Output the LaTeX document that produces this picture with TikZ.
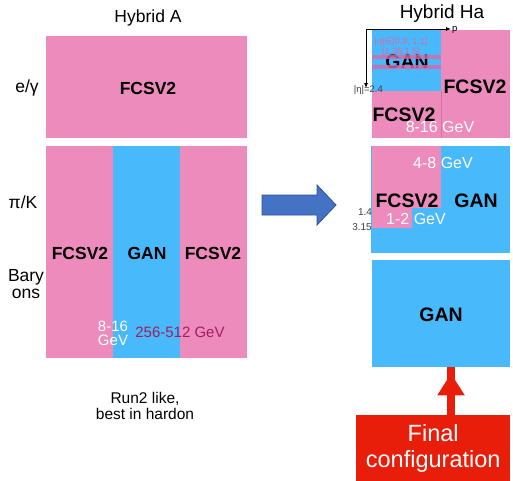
\documentclass[tikz,border=0pt]{standalone}
\usepackage{fontspec}
\setmainfont{Liberation Sans}
\newfontfamily\dejavu{DejaVu Sans}
\usetikzlibrary{arrows.meta}
\definecolor{pinkc}{RGB}{238,139,189}
\definecolor{bluec}{RGB}{72,185,250}
\definecolor{arrowblue}{RGB}{68,114,196}
\definecolor{arrowedge}{RGB}{47,82,143}
\definecolor{redc}{RGB}{232,30,10}
\definecolor{darkmag}{RGB}{160,30,95}
\definecolor{stripe}{RGB}{225,100,165}
\newcommand{\fs}[1]{\fontsize{#1}{#1}\selectfont}
\tikzset{
  lbl/.style={inner sep=0pt, font=\fs{17.5}, align=center},
  big/.style={inner sep=0pt, font=\fs{17.5}\bfseries},
  bigr/.style={inner sep=0pt, font=\fs{19.5}\bfseries},
  gev/.style={inner sep=0pt, font=\fs{16}, text=white, align=center},
  tiny/.style={inner sep=0pt, font=\fs{9.5}},
}
\begin{document}
\begin{tikzpicture}[x=1pt,y=-1pt]
\useasboundingbox (0,0) rectangle (513,480);
% ---------- Left panel ----------
\node[lbl] (ha) at (148,18) {Hybrid A};
\fill[pinkc] (46,36) rectangle (247,138);
\node[big] (la1) at (148,88) {FCSV2};
\fill[pinkc] (46,146) rectangle (247,358);
\fill[bluec] (113,146) rectangle (180,358);
\node[big] (la2) at (80,253) {FCSV2};
\node[big] (la3) at (147,253) {GAN};
\node[big] (la4) at (213,253) {FCSV2};
\node[inner sep=0pt, font=\fs{15}, text=white, align=center] (la5) at (113,333) {8-16\\[-1pt]GeV};
\node[inner sep=0pt, font=\fs{15}, text=darkmag] (la6) at (180,332) {256-512 GeV};
\node[lbl] (eg) at (27,88) {e/γ};
\node[lbl] (pk) at (23,202) {π/K};
\node[lbl] (bar) at (26,284) {Bary\\ons};
\node[inner sep=0pt, font=\fs{15.5}, align=center] (run) at (145,406) {Run2 like,\\best in hardon};
% ---------- Blue arrow ----------
\filldraw[fill=arrowblue, draw=arrowedge, line width=0.8pt]
  (262,195) -- (317,195) -- (317,185) -- (336,205) -- (317,225) -- (317,215) -- (262,215) -- cycle;
% ---------- Right panel ----------
\node[inner sep=0pt, font=\fs{19}] (hha) at (442,14) {Hybrid Ha};
% top block
\fill[pinkc] (372,30) rectangle (510,138);
\fill[bluec] (372,30) rectangle (441,91);
\draw[pinkc!85!black, line width=0.3pt] (441,91) -- (441,138);
\node[bigr] (rg1) at (407,62) {GAN};
\fill[stripe, opacity=0.8] (372,55) rectangle (441,59);
\fill[stripe, opacity=0.8] (372,65) rectangle (441,69);
\node[inner sep=0pt, font=\fs{9}, text=stripe, align=center] (eta) at (401,47) {|η|{\dejavu ∈}[0.9, 1.1]\\[1pt][1.35,1.5]};
\node[bigr] (rf1) at (475,87) {FCSV2};
\node[bigr] (rf2) at (404,115) {FCSV2};
\node[gev] (r816) at (440,127) {8-16 GeV};
\coordinate (ax0) at (366,29);
\coordinate (axp) at (451,29);
\coordinate (axe) at (366,88);
\draw[line width=0.8pt, -{Latex[length=5pt,width=4pt]}] (ax0) -- (axp);
\draw[line width=0.8pt, -{Latex[length=5pt,width=4pt]}] (ax0) -- (axe);
\node[tiny, anchor=west] (pl) at (452,30) {p};
\node[tiny, text=black!75, anchor=east] (el) at (383,90) {|η|=2.4};
% middle block
\fill[bluec] (371,146) rectangle (510,253);
\fill[pinkc] (372,146) rectangle (441,208);
\fill[pinkc] (372,208) rectangle (412,228);
\node[gev] (r48) at (443,163) {4-8 GeV};
\node[bigr] (rf3) at (407,201) {FCSV2};
\node[bigr] (rg2) at (476,201) {GAN};
\node[gev] (r12) at (416,219) {1-2 GeV};
\node[inner sep=0pt, font=\fs{10}, text=black!75] (n14) at (365,212) {1.4};
\node[inner sep=0pt, font=\fs{10}, text=black!75] (n315) at (362,227) {3.15};
% bottom block
\node[fill=bluec, minimum width=138pt, minimum height=107pt, inner sep=0pt, anchor=north west] (gan3) at (372,260) {};
\node[bigr] (rg3) at (441,315) {GAN};
% final configuration
\node[fill=redc, minimum width=154pt, minimum height=66pt, inner sep=0pt, anchor=north west, font=\fs{23.5}, text=white, align=center] (final) at (356,415) {Final\\[3pt]configuration};
\draw[redc, line width=8pt, -{Triangle[width=26pt,length=22pt]}] (final.north -| 451,0) -- (gan3.south -| 451,0) ++(0,6);
\end{tikzpicture}
\end{document}
